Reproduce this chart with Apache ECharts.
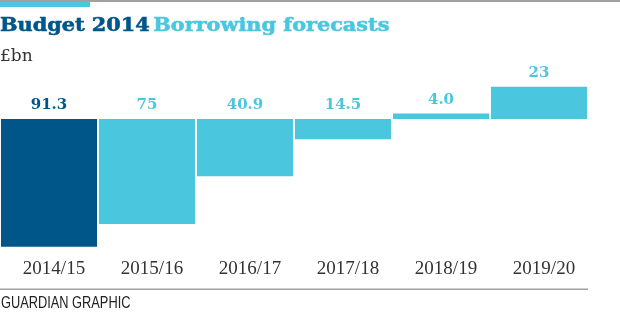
<!DOCTYPE html>
<html>
<head>
<meta charset="utf-8">
<script src="https://cdn.jsdelivr.net/npm/echarts@6/dist/echarts.min.js"></script>
<style>
html,body{margin:0;padding:0;background:#fff;}
#chart{width:620px;height:327px;}
</style>
</head>
<body>
<div id="chart"></div>
<script>
// Data
const categories = ["2014/15", "2015/16", "2016/17", "2017/18", "2018/19", "2019/20"];
// Net borrowing (negative = deficit drawn downward, positive = surplus drawn upward)
const balance = [-91.3, -75, -40.9, -14.5, 4.0, 23];
const valueLabels = ["91.3", "75", "40.9", "14.5", "4.0", "23"];
const barColors = ["#005689", "#4bc6df", "#4bc6df", "#4bc6df", "#4bc6df", "#4bc6df"];
const labelColors = ["#005689", "#4bc6df", "#4bc6df", "#4bc6df", "#4bc6df", "#4bc6df"];

const chart = echarts.init(document.getElementById('chart'), null, {renderer: 'canvas'});

const option = {
  animation: false,
  backgroundColor: '#fff',
  graphic: [
    {type: 'rect', shape: {x: 0, y: 0, width: 620, height: 2}, style: {fill: '#a0a0a0'}},
    {type: 'rect', shape: {x: 0, y: 2, width: 90, height: 5}, style: {fill: '#4bc6df'}},
    {
      type: 'text', x: 0, y: 17, scaleX: 1.04, scaleY: 0.9,
      style: {
        text: '{a|Budget 2014} {b|Borrowing forecasts}',
        rich: {
          a: {fontFamily: 'DejaVu Serif', fontWeight: 'bold', fontSize: 20, fill: '#005689', stroke: '#005689', lineWidth: 0.6},
          b: {fontFamily: 'DejaVu Serif', fontWeight: 'bold', fontSize: 20, fill: '#4bc6df', stroke: '#4bc6df', lineWidth: 0.6}
        }
      }
    },
    {type: 'text', x: 0, y: 48, style: {text: '£bn', font: '17px "DejaVu Serif"', fill: '#333'}},
    {type: 'rect', shape: {x: 0, y: 288.5, width: 588, height: 1.5}, style: {fill: '#a0a0a0'}},
    {type: 'text', x: 1, y: 296, scaleX: 0.8, style: {text: 'GUARDIAN GRAPHIC', font: '16px "Liberation Sans"', fill: '#222'}}
  ],
  grid: {left: 0, width: 588, top: 63, height: 196, containLabel: false},
  xAxis: {
    type: 'category',
    data: categories,
    axisLine: {show: false, onZero: false},
    axisTick: {show: false},
    axisLabel: {
      margin: 1,
      padding: [0, 0, 0, 10],
      fontFamily: 'Liberation Serif',
      fontSize: 19,
      color: '#333'
    }
  },
  yAxis: {
    type: 'value',
    min: -100,
    max: 40,
    show: false,
    splitLine: {show: false}
  },
  series: [{
    type: 'bar',
    barCategoryGap: '2%',
    data: balance.map((v, i) => ({
      value: v,
      itemStyle: {color: barColors[i]},
      label: {color: labelColors[i]}
    })),
    label: {
      show: true,
      position: 'top',
      distance: 6,
      fontFamily: 'DejaVu Serif',
      fontWeight: 'bold',
      fontSize: 15,
      formatter: p => valueLabels[p.dataIndex]
    }
  }]
};
chart.setOption(option);
</script>
</body>
</html>
